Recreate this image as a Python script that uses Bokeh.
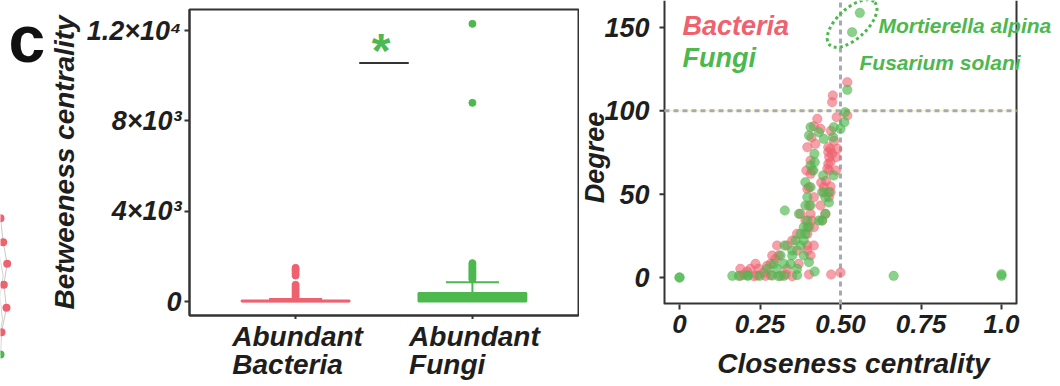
import math
from bokeh.plotting import figure
from bokeh.models import FixedTicker, Range1d
from bokeh.layouts import row, column
from bokeh.core.properties import value
from bokeh.embed import file_html
from bokeh.resources import INLINE

RED = "#EE6270"
GREEN = "#4DB84E"
INK = "#1E1E1E"
FRAME = "#333333"
FONT = "Liberation Sans"

# ---------------- network fragment (left edge) ----------------
net_x = [0.0, 2.7, 6.7, 3.3, 6.0, 1.0, 0.0]
net_y = [217.7, 241.7, 263.3, 284.3, 307.3, 331.7, 354.0]
net_kind = ["B", "B", "B", "B", "B", "B", "F"]

# ---------------- box plot data (betweenness centrality) ----------------
group_pos = [1, 2]
group_line1 = ["Abundant", "Abundant"]
group_line2 = ["Bacteria", "Fungi"]
group_colors = [RED, GREEN]
box_q1 = [0, 0]
box_median = [10, 60]
box_q3 = [45, 380]
whisker_high = [110, 850]
bacteria_outliers = [1490, 1420, 1350, 1250, 1150, 740, 650, 560, 470, 380, 300, 220]
fungi_outliers = [1700, 1620, 1540, 1470, 1400, 1330, 1260, 1190, 1120, 1050, 980, 8800, 12300]
betw_ticks = [0, 4000, 8000, 12000]
betw_tick_labels = ["0", "4×10³", "8×10³", "1.2×10⁴"]
signif_y = 10560
signif_star_y = 11130

# ---------------- scatter data (closeness vs degree) ----------------
bact_close = [0.189, 0.200, 0.231, 0.241, 0.267, 0.283, 0.314, 0.330, 0.350, 0.402, 0.471, 0.500,
              0.189, 0.220, 0.245, 0.334, 0.210, 0.262, 0.236, 0.283, 0.370, 0.272, 0.288, 0.308,
              0.407, 0.298, 0.365, 0.397, 0.303, 0.334, 0.397, 0.417, 0.350, 0.365, 0.397, 0.397,
              0.417, 0.391, 0.412, 0.443, 0.376, 0.407, 0.453, 0.402, 0.438, 0.417, 0.464, 0.448,
              0.469, 0.397, 0.402, 0.448, 0.469, 0.407, 0.394, 0.411, 0.465, 0.486, 0.459, 0.462,
              0.469, 0.407, 0.465, 0.486, 0.474, 0.462, 0.469, 0.490, 0.397, 0.462, 0.422, 0.438,
              0.417, 0.428, 0.488, 0.521, 0.474, 0.476, 0.521, 0.455, 0.440, 0.480, 0.410, 0.470]
bact_degree = [1.0, 1.6, 0.8, 1.2, 1.0, 1.4, 1.0, 1.8, 0.8, 1.8, 1.8, 3.0,
               5.2, 5.2, 5.2, 5.2, 3.5, 3.0, 8.2, 8.2, 8.2, 7.0, 13.2, 13.2,
               13.2, 11.0, 16.2, 16.2, 19.2, 19.2, 19.2, 19.2, 22.2, 26.2, 26.2, 30.2,
               30.2, 34.2, 34.2, 34.2, 38.2, 38.2, 38.2, 43.2, 43.2, 48.2, 48.2, 51.2,
               51.2, 53.2, 54.2, 54.2, 54.6, 62.2, 64.2, 64.2, 64.2, 64.2, 65.2, 68.2,
               69.2, 70.2, 72.2, 72.2, 74.2, 75.2, 77.2, 77.2, 78.2, 78.2, 80.2, 89.2,
               90.8, 95.2, 96.2, 97.2, 105.2, 109.2, 117.2, 58.0, 57.0, 82.0, 84.0, 88.0]
fungi_close = [0.0, 0.0, 0.164, 0.184, 0.212, 0.212, 0.249, 0.288, 0.308, 0.324, 0.365, 0.420,
               0.665, 1.0, 1.0, 0.272, 0.303, 0.365, 0.402, 0.293, 0.324, 0.345, 0.314, 0.350,
               0.386, 0.350, 0.326, 0.376, 0.360, 0.386, 0.376, 0.391, 0.386, 0.402, 0.397, 0.433,
               0.443, 0.371, 0.453, 0.327, 0.391, 0.407, 0.464, 0.397, 0.453, 0.443, 0.464, 0.407,
               0.391, 0.446, 0.479, 0.416, 0.407, 0.420, 0.419, 0.402, 0.448, 0.477, 0.433, 0.407,
               0.479, 0.500, 0.512, 0.514, 0.521, 0.536, 0.560]
fungi_degree = [0.0, 0.0, 1.0, 1.0, 1.0, 1.4, 1.0, 1.2, 0.8, 1.0, 1.4, 3.6,
                1.0, 1.0, 2.0, 5.2, 5.2, 5.2, 9.2, 8.2, 8.2, 8.2, 13.2, 13.2,
                13.2, 16.2, 19.2, 19.2, 22.2, 22.2, 26.2, 26.2, 30.2, 30.2, 34.2, 34.2,
                34.2, 38.2, 38.2, 40.2, 43.2, 43.2, 45.0, 48.2, 48.2, 51.2, 51.2, 54.2,
                57.2, 61.2, 61.2, 64.2, 67.2, 69.2, 74.2, 85.2, 83.2, 84.2, 87.2, 90.2,
                90.2, 89.2, 93.2, 99.2, 112.6, 147.2, 158.8]
close_ticks = [0, 0.25, 0.5, 0.75, 1.0]
close_tick_labels = ["0", "0.25", "0.50", "0.75", "1.0"]
degree_ticks = [0, 50, 100, 150]
degree_tick_labels = ["0", "50", "100", "150"]
close_cut = 0.5
degree_cut = 100
X_START, X_LO, X_HI, X_VIEW = -0.3106, -0.0466, 1.0466, 1.177
Y_LO, Y_HI = -16.2, 166.2
PX = 1 / 322.0          # one screen pixel in closeness units

SVG = dict(output_backend="svg", toolbar_location=None)
TXT = dict(text_font=value(FONT), text_baseline="middle")


def bare(p):
    p.xgrid.visible = False
    p.ygrid.visible = False
    p.outline_line_color = None
    p.background_fill_color = "white"
    p.border_fill_color = "white"


def style(p, tick_font):
    bare(p)
    for ax in p.axis:
        ax.axis_line_color = FRAME
        ax.axis_line_width = 2
        ax.major_tick_line_color = FRAME
        ax.major_tick_line_width = 2
        ax.major_tick_out = 5
        ax.major_tick_in = 0
        ax.minor_tick_line_color = None
        ax.major_label_text_font = FONT
        ax.major_label_text_font_style = "bold italic"
        ax.major_label_text_font_size = tick_font
        ax.major_label_text_color = INK
        ax.axis_label_text_font = FONT
        ax.axis_label_text_font_style = "bold italic"
        ax.axis_label_text_font_size = "28px"
        ax.axis_label_text_color = INK


# ================= network fragment + panel letter =================
p0 = figure(width=45, height=384, x_range=Range1d(0, 45), y_range=Range1d(384, 0),
            x_axis_location=None, y_axis_location=None, min_border=0, **SVG)
bare(p0)
p0.line(x=net_x, y=net_y, line_color="#C8C8C8", line_width=1)
p0.line(x=[v - 4 for v in net_x], y=[v + 12 for v in net_y], line_color="#D2D2D2", line_width=1)
p0.scatter(x=net_x, y=net_y, size=8,
           fill_color=[RED if k == "B" else GREEN for k in net_kind], line_color=None)
p0.text(x=[8], y=[38], text=["c"], text_font_style="bold", text_font_size="66px",
        text_color="#111111", text_align="left", **TXT)

# ================= left panel: box plot =================
p1 = figure(width=534, height=319, x_range=Range1d(0.4, 2.6), y_range=Range1d(-620, 12935),
            min_border_left=141, min_border_right=1, min_border_top=9, min_border_bottom=4, **SVG)
style(p1, "27px")
p1.outline_line_color = FRAME
p1.outline_line_width = 2
p1.yaxis.ticker = FixedTicker(ticks=betw_ticks)
p1.yaxis.major_label_overrides = {t: s for t, s in zip(betw_ticks, betw_tick_labels)}
p1.yaxis.axis_label = "Betweeness centrality"
p1.yaxis.axis_label_standoff = 4
p1.yaxis.major_label_standoff = 3
p1.xaxis.ticker = FixedTicker(ticks=group_pos)
p1.xaxis.major_label_overrides = {t: "" for t in group_pos}
p1.xaxis.major_label_text_font_size = "0px"
p1.xaxis.major_label_standoff = 0
p1.xaxis.major_tick_out = 4

p1.segment(x0=group_pos, y0=box_q3, x1=group_pos, y1=whisker_high,
           line_color=group_colors, line_width=2)
p1.segment(x0=[x - 0.15 for x in group_pos], y0=whisker_high,
           x1=[x + 0.15 for x in group_pos], y1=whisker_high,
           line_color=group_colors, line_width=2)
p1.vbar(x=group_pos, width=0.61, bottom=box_q1, top=box_q3,
        fill_color=group_colors, line_color=group_colors, line_width=2)
p1.segment(x0=[x - 0.305 for x in group_pos], y0=box_median,
           x1=[x + 0.305 for x in group_pos], y1=box_median,
           line_color=group_colors, line_width=2)
p1.scatter(x=[group_pos[0]] * len(bacteria_outliers), y=bacteria_outliers,
           size=7, fill_color=RED, line_color=RED)
p1.scatter(x=[group_pos[1]] * len(fungi_outliers), y=fungi_outliers,
           size=7, fill_color=GREEN, line_color=GREEN)
p1.segment(x0=[1.36], y0=[signif_y], x1=[1.64], y1=[signif_y], line_color=FRAME, line_width=2)
p1.text(x=[1.483], y=[signif_star_y], text=["*"], text_font_style="bold",
        text_font_size="48px", text_color=GREEN, text_align="center", **TXT)

# category labels strip under the box plot
strip = figure(width=534, height=65, x_range=p1.x_range, y_range=Range1d(65, 0),
               x_axis_location=None, y_axis_location=None,
               min_border_left=141, min_border_right=1, min_border_top=0, min_border_bottom=0,
               **SVG)
bare(strip)
strip.text(x=[x - 0.358 for x in group_pos], y=[17, 17], text=group_line1,
           text_font_style="bold italic", text_font_size="28px", text_color=INK,
           text_align="left", **TXT)
strip.text(x=[x - 0.358 for x in group_pos], y=[45, 45], text=group_line2,
           text_font_style="bold italic", text_font_size="28px", text_color=INK,
           text_align="left", **TXT)

# ================= right panel: scatter =================
p2 = figure(width=479, height=347, x_range=Range1d(X_START, X_VIEW), y_range=Range1d(Y_LO, Y_HI),
            y_axis_location=None,
            min_border_left=0, min_border_right=0, min_border_top=0, min_border_bottom=43, **SVG)
style(p2, "26px")
p2.xaxis.axis_line_color = None
p2.xaxis.ticker = FixedTicker(ticks=close_ticks)
p2.xaxis.major_label_overrides = {t: s for t, s in zip(close_ticks, close_tick_labels)}
p2.xaxis.major_label_standoff = 5

# y axis of the scatter (drawn through the data scales)
p2.segment(x0=[X_LO], y0=[Y_LO], x1=[X_LO], y1=[Y_HI], line_color=FRAME, line_width=2)
p2.segment(x0=[X_LO - 5 * PX] * len(degree_ticks), y0=degree_ticks,
           x1=[X_LO] * len(degree_ticks), y1=degree_ticks, line_color=FRAME, line_width=2)
p2.text(x=[X_LO - 15 * PX] * len(degree_ticks), y=degree_ticks, text=degree_tick_labels,
        text_font_style="bold italic", text_font_size="27px", text_color=INK,
        text_align="right", **TXT)
p2.text(x=[X_LO - 70 * PX], y=[(Y_LO + Y_HI) / 2 - 3.0], text=["Degree"], angle=math.pi / 2,
        text_font_style="bold italic", text_font_size="27px", text_color=INK,
        text_align="center", **TXT)

# frame: bottom and right sides
p2.segment(x0=[X_LO], y0=[Y_LO], x1=[X_HI], y1=[Y_LO], line_color=FRAME, line_width=4)
p2.segment(x0=[X_HI], y0=[Y_LO], x1=[X_HI], y1=[Y_HI], line_color=FRAME, line_width=2)

p2.segment(x0=[X_LO], y0=[degree_cut], x1=[X_HI], y1=[degree_cut],
           line_color="#F2EDA0", line_width=1)
p2.segment(x0=[X_LO], y0=[degree_cut], x1=[X_HI], y1=[degree_cut],
           line_color="#A8A9B2", line_width=3, line_dash="5 4")
p2.segment(x0=[close_cut], y0=[Y_LO], x1=[close_cut], y1=[Y_HI],
           line_color="#A8A9B2", line_width=3, line_dash="5 4")

p2.scatter(x=bact_close, y=bact_degree, size=9.5, fill_color=RED, fill_alpha=0.6,
           line_color=RED, line_alpha=0.35)
p2.scatter(x=fungi_close, y=fungi_degree, size=9.5, fill_color=GREEN, fill_alpha=0.65,
           line_color=GREEN, line_alpha=0.35)

p2.ellipse(x=[0.536], y=[152.4], width=[62], height=[30], angle=0.75,
           width_units="screen", height_units="screen",
           fill_color=None, line_color=GREEN, line_width=3, line_dash="3 3")

p2.text(x=[0.009], y=[151.0], text=["Bacteria"], text_font_style="bold italic",
        text_font_size="27px", text_color=RED, **TXT)
p2.text(x=[0.009], y=[131.8], text=["Fungi"], text_font_style="bold italic",
        text_font_size="27px", text_color=GREEN, **TXT)
p2.text(x=[0.618], y=[151.3], text=["Mortierella alpina"], text_font_style="bold italic",
        text_font_size="21px", text_color=GREEN, **TXT)
p2.text(x=[0.559], y=[129.2], text=["Fusarium solani"], text_font_style="bold italic",
        text_font_size="21px", text_color=GREEN, **TXT)

# x title strip under the scatter
strip2 = figure(width=479, height=37, x_range=p2.x_range, y_range=Range1d(37, 0),
                x_axis_location=None, y_axis_location=None,
                min_border_left=0, min_border_right=0, min_border_top=0, min_border_bottom=0,
                **SVG)
bare(strip2)
strip2.text(x=[0.540], y=[16], text=["Closeness centrality"], text_font_style="bold italic",
            text_font_size="28px", text_color=INK, text_align="center", **TXT)

layout = row(column(p0), column(p1, strip), column(p2, strip2))
open("out.html", "w").write(file_html(layout, INLINE))
